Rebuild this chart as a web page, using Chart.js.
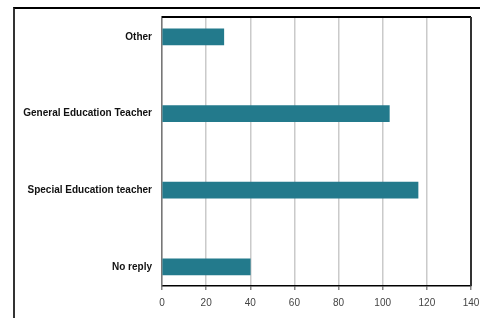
<!DOCTYPE html>
<html>
<head>
<meta charset="utf-8">
<script src="https://cdn.jsdelivr.net/npm/chart.js@4"></script>
<style>
  html, body { margin: 0; padding: 0; background: #fff; }
  #wrap { position: relative; width: 480px; height: 318px; overflow: hidden; }
  #frame { position: absolute; left: 13px; top: 7px; width: 480px; height: 320px;
           border-top: 2px solid #000; border-left: 2px solid #333; box-sizing: border-box; }
  canvas { position: absolute; left: 0; top: 0; }
</style>
</head>
<body>
<div id="wrap">
  <div id="frame"></div>
  <canvas id="roleChart" width="480" height="318"></canvas>
</div>
<script>
var categories = ["Other", "General Education Teacher", "Special Education teacher", "No reply"];
var counts = [28, 103, 116, 40];
var xTicks = [0, 20, 40, 60, 80, 100, 120, 140];

// top and right edges of the plot box
var plotBox = {
  id: "plotBox",
  afterDraw: function (chart) {
    var a = chart.chartArea, c = chart.ctx;
    c.save();
    c.lineWidth = 2;
    c.strokeStyle = "#000";
    c.beginPath();
    c.moveTo(a.left, a.top);
    c.lineTo(a.right, a.top);
    c.stroke();
    c.strokeStyle = "#333";
    c.beginPath();
    c.moveTo(a.right, a.top);
    c.lineTo(a.right, a.bottom);
    c.stroke();
    c.restore();
  },
};

window.addEventListener("DOMContentLoaded", function () {
  var ctx = document.getElementById("roleChart").getContext("2d");
  new Chart(ctx, {
    type: "bar",
    data: {
      datasets: [
        {
          data: counts.map(function (v, i) { return { x: v, y: i }; }),
          backgroundColor: "rgb(35, 122, 140)",
          barThickness: 16,
        },
      ],
    },
    options: {
      indexAxis: "y",
      responsive: false,
      animation: false,
      layout: { padding: { left: 0, right: 9, top: 17, bottom: 0 } },
      plugins: { legend: { display: false }, tooltip: { enabled: false } },
      scales: {
        x: {
          type: "linear",
          min: 0,
          max: 140,
          afterBuildTicks: function (s) {
            s.ticks = xTicks.map(function (v) { return { value: v }; });
          },
          afterFit: function (s) {
            s.height = 32;
            s.paddingRight = 0;
            s.paddingLeft = 0;
          },
          grid: { color: "#cacaca", lineWidth: 1.5, tickLength: 4, tickColor: "#888" },
          border: { color: "#000", width: 1.5 },
          ticks: { color: "#444", padding: 7, font: { family: "Liberation Sans", size: 10 } },
        },
        y: {
          type: "linear",
          reverse: true,
          offset: false,
          min: -0.26,
          max: 3.25,
          afterBuildTicks: function (s) {
            s.ticks = categories.map(function (c, i) { return { value: i }; });
          },
          afterFit: function (s) {
            s.width = 162;
            s.paddingTop = 0;
            s.paddingBottom = 0;
          },
          grid: { display: false, drawTicks: false, offset: false },
          border: { color: "#777", width: 1.5 },
          ticks: {
            color: "#111",
            padding: 10,
            font: { family: "Liberation Sans", size: 10, weight: "bold" },
            callback: function (v) { return categories[v]; },
          },
        },
      },
    },
    plugins: [plotBox],
  });
});
</script>
</body>
</html>
